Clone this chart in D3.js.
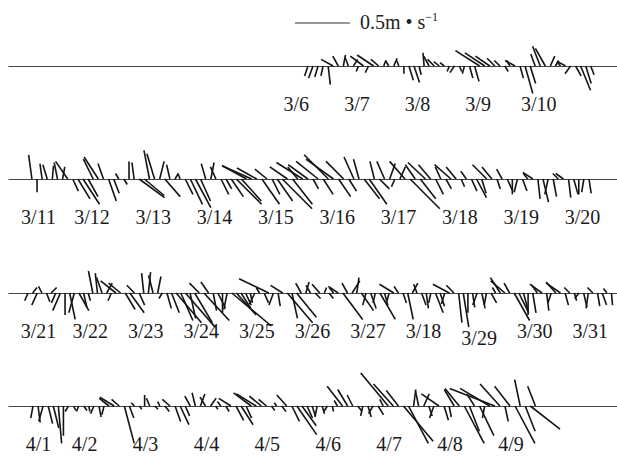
<!DOCTYPE html>
<html>
<head>
<meta charset="utf-8">
<script src="https://cdn.jsdelivr.net/npm/d3@7"></script>
<style>
  body { margin: 0; background: #fff; }
</style>
</head>
<body>
<svg id="chart" width="617" height="463"></svg>
<script>
// time is counted in days from 1 March (4/1 = day 32), one stick every 2 hours
// wind components in cm/s: u east (+ right), v north (+ up)

const tickDays1 = [6, 7, 8, 9, 10];
const tickLabels1 = ["3/6", "3/7", "3/8", "3/9", "3/10"];
const tickDays2 = [11, 12, 13, 14, 15, 16, 17, 18, 19, 20];
const tickLabels2 = ["3/11", "3/12", "3/13", "3/14", "3/15", "3/16", "3/17", "3/18", "3/19", "3/20"];
const tickDays3 = [21, 22, 23, 24, 25, 26, 27, 28, 29, 30, 31];
const tickLabels3 = ["3/21", "3/22", "3/23", "3/24", "3/25", "3/26", "3/27", "3/18", "3/29", "3/30", "3/31"];
const tickDays4 = [32, 33, 34, 35, 36, 37, 38, 39, 40];
const tickLabels4 = ["4/1", "4/2", "4/3", "4/4", "4/5", "4/6", "4/7", "4/8", "4/9"];

// day span covered by each panel, and time of the first stick
const rowSpan = [[1.25, 11.3], [10.64, 20.57], [20.53, 31.49], [31.75, 41.75]];
const rowStart = [6.2, 11.03, 20.89, 32.16];
const stepDays = 1 / 12;

const u1 = [-3,-4,-3,-2,2,-11,-5,2,-3,4,-2,-12,-3,-15,-7,2,-3,3,-2,0,4,5,2,-1,-5,-6,-5,-4,-2,-4,
  2,-2,3,4,-22,-18,-13,-7,-5,3,-3,-9,3,7,5,-4,-7,-9,4,3,-3,-7,-5,5,9,5,3];
const v1 = [-9,-11,-10,-9,-17,6,9,10,8,6,-5,9,-6,10,6,5,5,7,5,-7,-13,-15,-8,12,9,6,4,3,-5,-6,
  -5,-7,-11,-14,14,12,9,7,5,-5,5,5,-11,-25,-16,11,18,16,9,5,4,4,-7,-9,-22,-16,-8];

const u2 = [-3,0,-2,-4,1,-3,2,-11,5,11, 15,9,-9,-13,-5,7,5,-3,3,0, -2,23,18,-5,-7,4,14,-3,3,-2,
  7,11,14,9,-4,3,-5,7,5,11, 23,18,-22,-27,-18,16,-11,7,14,27, -16,18,-9,-24,-18,5,-20,9,-22,-25,
  11,-16,7,-9,-5,14,16,-4,9,-7, 5,-3,5,-14,27,-9,14,-16,-11,7, -5,5,-15,-9,3,-5,5,9,4,-13,
  -9,3,-5,5,0,-3,4,-4,-9,2, 5,-3,3,-5,-7,2,4,0,-2,2];
const v2 = [22,-12,14,13,12,15,11,16,-11,-18, -23,-16,18,20,14,-20,-13,5,-5,16, 15,-17,-15,26,23,16,-16,13,5,5,
  -14,-23,-26,-20,14,15,11,-14,-9,-16, -23,-20,12,12,10,-23,9,-14,-20,-27, 11,-23,11,15,13,-9,16,-14,22,18,
  -16,16,-11,20,18,-18,-23,16,-9,16, 14,-7,11,16,-27,13,-18,15,13,-14, 11,-9,13,11,-7,7,-11,-17,-13,13,
  11,-9,9,-11,-14,-12,-11,5,6,-18, -21,-14,-16,5,5,-17,-14,-14,-12,-13];

const u3 = [-3,4,-5,-3,3,5,-4,-7,0,5, -5,9,3,2,-4,-2,-5,5,-3,-14, -11,9,13,-7,5,-2,2,-4,3,-3,
  4,7,23,11,27,5,16,-9,23,-7, 3,7,0,-3,36,18,9,5,2,-5, -3,4,-27,-4,2,-11,23,5,18,-5,
  3,-4,5,-7,2,4,-4,-9,18,-5, 7,2,11,-3,5,-2,14,3,-2,-13, -4,3,5,5,-3,4,2,-2,7,4,
  -3,-15,-7,3,5,0,2,-4,3,-2, 5,-3,-9,-13,-5,14,9,4,0,3, -5,-11,2,-3,-9,-13,3,-5,2,-4,
  3,-2,-5,2,4,-3,1];
const v3 = [-7,5,-11,6,-8,5,-9,-16,-20,-24, -18,-16,-13,-7,20,18,14,9,-7,11, 9,-15,-18,7,-11,18,19,16,15,-5,
  -14,-18,-27,-25,-31,-23,-27,9,-25,10, -16,-14,-18,-15,-30,-20,-14,-11,-9,-10, 5,-9,13,-11,-12,7,-27,-23,-22,9,
  10,7,-5,8,5,-5,5,6,-24,9, 11,14,-16,-11,-14,-9,-24,-11,-7,8, 6,-9,-24,9,8,-11,-14,-9,-18,-12,
  -10,8,7,-27,-31,-18,-13,-11,-14,-11, -9,5,14,11,9,-25,-18,-15,-20,-18, 7,8,-16,-9,10,9,-11,5,-7,-5,
  -13,-14,5,-12,-11,4,-11];

const u4 = [-2,2,-4,4,5,3,0,-3,2,-2, 3,1,-3,2,-2,-9,-13,-7,9,4, -3,2,0,-3,3,-2,4,-7,5,8,
  4,-5,-3,4,-5,5,2,-3,3,-11, 7,11,5,-16,-18,-11,-7,3,-2,4, -9,7,18,13,5,3,-2,2,-3,1,
  -3,-14,-9,-5,4,-2,3,-4,5,-3, -25,-18,-11,27,18,2,-3,5,3,-4, -16,4,2,-9,-13,18,9,-7,13,-2,
  -27,-41,-18,3,-14,18,-5,9,27,-7];
const v4 = [-11,-15,-14,-16,-20,-34,-27,-5,-4,-5, -4,-5,-7,-10,-8,7,8,6,-34,-11, 3,-3,10,7,-3,4,-5,6,-14,-17,
  -9,9,12,11,8,7,-3,4,-5,7, -13,-17,-11,12,11,9,6,-4,3,-5, 10,-14,-26,-18,-11,-9,-10,-7,-5,-5,
  5,18,15,10,-5,-9,-10,-7,-8,6, 30,20,14,-32,-34,15,14,11,-9,-11, 11,-13,-10,15,16,-34,-23,11,-27,-11,
  16,16,20,-14,18,-34,24,-23,-21,18];

const rows = [
  {days: tickDays1, labels: tickLabels1, u: u1, v: v1},
  {days: tickDays2, labels: tickLabels2, u: u2, v: v2},
  {days: tickDays3, labels: tickLabels3, u: u3, v: v3},
  {days: tickDays4, labels: tickLabels4, u: u4, v: v4}
];

const rowY = [66, 179, 293, 406];
const labelShift = {29: 7};
const serif = "'Liberation Serif', 'Times New Roman', serif";

const svg = d3.select("#chart");

// 0.5 m/s -> 55 px
const speed = d3.scaleLinear().domain([0, 0.5]).range([0, 55]);

rows.forEach((row, r) => {
  const x = d3.scaleLinear().domain(rowSpan[r]).range([8, 617]);
  const g = svg.append("g").attr("transform", "translate(0," + rowY[r] + ")");

  const axis = d3.axisBottom(x)
    .tickValues(row.days)
    .tickFormat((d, i) => row.labels[i])
    .tickSize(0)
    .tickSizeOuter(0)
    .tickPadding(31);

  g.call(axis)
    .attr("font-family", serif)
    .attr("font-size", 20)
    .attr("color", "#444");

  g.selectAll(".tick text")
    .attr("fill", "#1a1a1a")
    .attr("x", d => Math.max(x(d), 38) - x(d))
    .attr("dy", d => (0.71 * 20 + (labelShift[d] || 0)) + "px");

  g.append("g")
    .selectAll("line")
    .data(row.u.map((u, i) => ({t: rowStart[r] + i * stepDays, u: u / 100, v: row.v[i] / 100})))
    .join("line")
    .attr("x1", d => x(d.t))
    .attr("y1", 0)
    .attr("x2", d => x(d.t) + speed(d.u))
    .attr("y2", d => -speed(d.v))
    .attr("stroke", "#141414")
    .attr("stroke-width", 1.6)
    .attr("stroke-linecap", "butt");
});

// scale arrow
const legend = svg.append("g").attr("transform", "translate(295,23)");
legend.append("line")
  .attr("x1", 0).attr("x2", speed(0.5))
  .attr("stroke", "#333").attr("stroke-width", 1.2);
const lt = legend.append("text")
  .attr("x", 65).attr("y", 6)
  .attr("font-family", serif)
  .attr("font-size", 20)
  .attr("fill", "#222");
lt.append("tspan").text("0.5m \u2022 s");
lt.append("tspan").attr("dy", -8).attr("font-size", 12).text("\u22121");
</script>
</body>
</html>
